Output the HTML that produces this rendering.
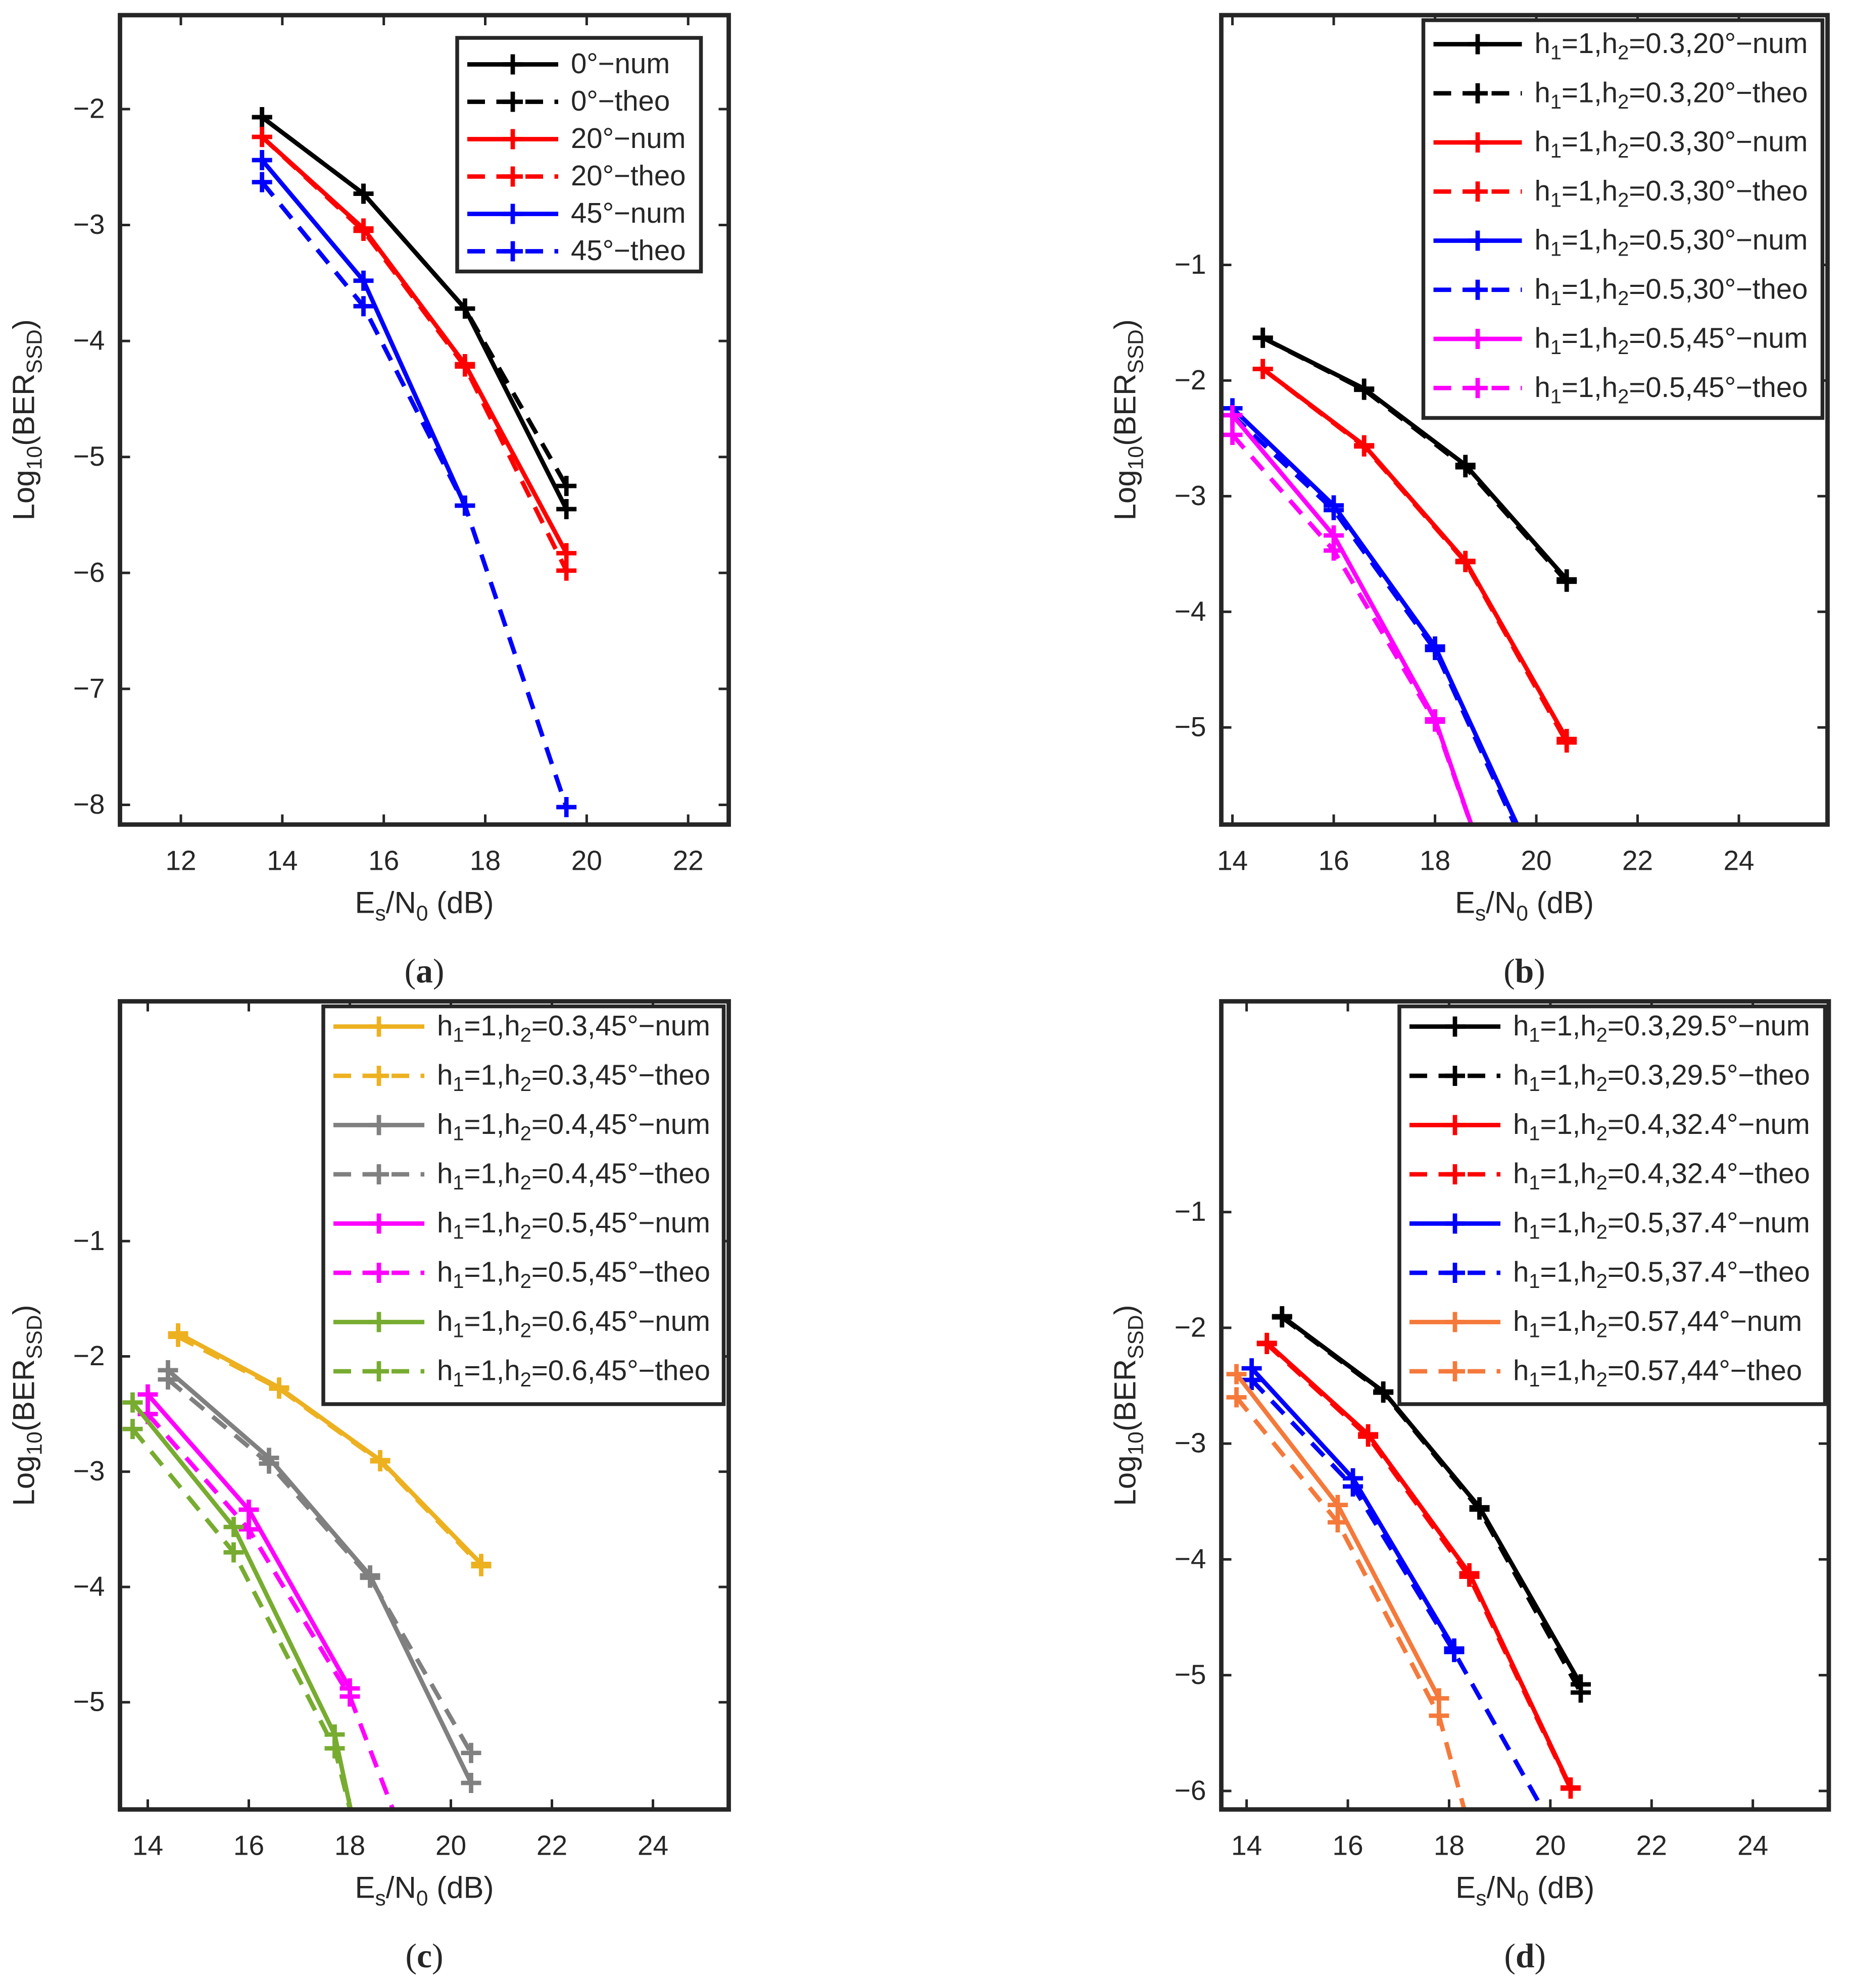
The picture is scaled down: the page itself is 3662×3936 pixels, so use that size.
<!DOCTYPE html>
<html><head><meta charset="utf-8"><style>
html,body{margin:0;padding:0;background:#fff}
svg{display:block}
text{font-family:"Liberation Sans",sans-serif;fill:#262626}
</style></head><body>
<svg id="fig" width="3662" height="3936" viewBox="0 0 1464.8 1574.4" xmlns="http://www.w3.org/2000/svg"></svg>
<script>
// ---- Panel (a) data ----
const aX = [13.6, 15.6, 17.6, 19.6];
const a0num = [-2.07, -2.73, -3.72, -5.45];
const a0theo = [-2.07, -2.73, -3.72, -5.25];
const a20num = [-2.24, -3.03, -4.20, -5.83];
const a20theo = [-2.24, -3.05, -4.22, -5.98];
const a45numX = [13.6, 15.6, 17.6];
const a45num = [-2.44, -3.48, -5.42];
const a45theo = [-2.63, -3.70, -5.42, -8.02];
const aXTicks = [12, 14, 16, 18, 20, 22];
const aYTicks = [-8, -7, -6, -5, -4, -3, -2];
// ---- Panel (b) data ----
const bXk = [14.6, 16.6, 18.6, 20.6];
const bKnum = [-1.63, -2.07, -2.73, -3.72];
const bKtheo = [-1.63, -2.08, -2.75, -3.74];
const bRnum = [-1.90, -2.56, -3.56, -5.10];
const bRtheo = [-1.90, -2.57, -3.57, -5.13];
const bBX = [14.0, 16.0, 18.0, 20.0];
const bBnum = [-2.24, -3.08, -4.30, -6.20];
const bBtheo = [-2.30, -3.12, -4.33, -6.25];
const bMX = [14.0, 16.0, 18.0, 19.0];
const bMnum = [-2.30, -3.34, -4.93, -6.20];
const bMtheo = [-2.47, -3.47, -4.95, -6.20];
const bXTicks = [14, 16, 18, 20, 22, 24];
const bYTicks = [-5, -4, -3, -2, -1];
// ---- Panel (c) data ----
const cYX = [14.6, 16.6, 18.6, 20.6];
const cYnum = [-1.80, -2.27, -2.90, -3.80];
const cYtheo = [-1.83, -2.28, -2.91, -3.82];
const cGX = [14.4, 16.4, 18.4, 20.4];
const cGnum = [-2.12, -2.88, -3.90, -5.70];
const cGtheo = [-2.20, -2.93, -3.92, -5.44];
const cMX = [14.0, 16.0, 18.0, 19.0];
const cMnum = [-2.33, -3.33, -4.88];
const cMtheo = [-2.50, -3.50, -4.95, -6.10];
const cLX = [13.7, 15.7, 17.7, 18.1];
const cLnum = [-2.40, -3.48, -5.28, -6.10];
const cLtheo = [-2.63, -3.70, -5.40, -6.10];
const cXTicks = [14, 16, 18, 20, 22, 24];
const cYTicks = [-5, -4, -3, -2, -1];
// ---- Panel (d) data ----
const dKX = [14.7, 16.7, 18.6, 20.6];
const dKnum = [-1.90, -2.55, -3.55, -5.08];
const dKtheo = [-1.91, -2.56, -3.57, -5.15];
const dRX = [14.4, 16.4, 18.4, 20.4];
const dRnum = [-2.13, -2.92, -4.12, -5.97];
const dRtheo = [-2.14, -2.94, -4.15, -5.98];
const dBX = [14.1, 16.1, 18.1, 19.85];
const dBnum = [-2.35, -3.30, -4.77];
const dBtheo = [-2.45, -3.37, -4.80, -6.16];
const dOX = [13.8, 15.8, 17.8, 18.3];
const dOnum = [-2.40, -3.53, -5.20];
const dOtheo = [-2.60, -3.68, -5.35, -6.16];
const dXTicks = [14, 16, 18, 20, 22, 24];
const dYTicks = [-6, -5, -4, -3, -2, -1];

const NS = "http://www.w3.org/2000/svg";
const fig = document.getElementById('fig');
function mk(tag, attrs, parent){const e=document.createElementNS(NS,tag);for(const k in attrs)e.setAttribute(k,attrs[k]);(parent||fig).appendChild(e);return e;}

const C = {k:'#000000', r:'#FF0000', b:'#0000FF', m:'#FF00FF', y:'#EDB120', g:'#808080', l:'#77AC30', o:'#F5793A'};

function panel(id, box, xr, yr, xt, yt, letter, series, legend){
  const g = mk('g', {});
  
  
  const [x0,y0,x1,y1] = box;
  const sx = v => x0 + (v - xr[0]) / (xr[1] - xr[0]) * (x1 - x0);
  const sy = v => y0 + (yr[1] - v) / (yr[1] - yr[0]) * (y1 - y0);
  const cp = mk('clipPath', {id:'clip'+id}, g);
  mk('rect', {x:x0, y:y0, width:x1-x0, height:y1-y0}, cp);
  xt.forEach(t => {
    const X = sx(t);
    const tk = mk('path', {d:`M${X},${y1}v-8M${X},${y0}v8`, stroke:'#262626', 'stroke-width':2}, g);
    
    
    const tl = mk('text', {x:X, y:y1+36, 'text-anchor':'middle', 'font-size':22}, g);
    tl.textContent = t;
    
    
  });
  yt.forEach(t => {
    const Y = sy(t);
    const tk = mk('path', {d:`M${x0},${Y}h8M${x1},${Y}h-8`, stroke:'#262626', 'stroke-width':2}, g);
    
    
    const tl = mk('text', {x:x0-12, y:Y+7, 'text-anchor':'end', 'font-size':22}, g);
    tl.textContent = '\u2212' + Math.abs(t);
    
    
  });
  const sg = mk('g', {'clip-path':`url(#clip${id})`}, g);
  series.forEach(s => {
    const pts = s.y.map((v,i) => [sx(s.x[i]), sy(v)]);
    const ln = mk('polyline', {points:pts.map(p=>p.join(',')).join(' '), fill:'none', stroke:s.c, 'stroke-width':3.5, 'stroke-dasharray':s.d?'14,9':'none'}, sg);
    
    
    pts.forEach((p,i) => {
      if (s.nm && i >= s.nm) return;
      const mkr = mk('path', {d:`M${p[0]-8},${p[1]}h16M${p[0]},${p[1]-8}v16`, stroke:s.c, 'stroke-width':3.5}, sg);
      
      
    });
  });
  const bx = mk('rect', {x:x0, y:y0, width:x1-x0, height:y1-y0, fill:'none', stroke:'#262626', 'stroke-width':3.5}, g);
  
  
  const xl = mk('text', {x:(x0+x1)/2, y:y1+70, 'text-anchor':'middle', 'font-size':24}, g);
  xl.innerHTML = 'E<tspan font-size="17" dy="6">s</tspan><tspan dy="-6">/N</tspan><tspan font-size="17" dy="6">0</tspan><tspan dy="-6"> (dB)</tspan>';
  
  
  const yl = mk('text', {x:0, y:0, 'text-anchor':'middle', 'font-size':24, transform:`translate(${x0-68},${(y0+y1)/2}) rotate(-90)`}, g);
  yl.innerHTML = 'Log<tspan font-size="17" dy="6">10</tspan><tspan dy="-6">(BER</tspan><tspan font-size="17" dy="6">SSD</tspan><tspan dy="-6">)</tspan>';
  
  
  const pl = mk('text', {x:(x0+x1)/2, y:y1+125, 'text-anchor':'middle', 'font-size':27, style:'font-family:"Liberation Serif",serif'}, g);
  pl.innerHTML = '(<tspan font-weight="bold">' + letter + '</tspan>)';
  
  
  const L = legend;
  const lg = mk('g', {}, g);
  
  
  mk('rect', {x:L.x, y:L.y, width:L.w, height:L.h, fill:'#fff', stroke:'#262626', 'stroke-width':3}, lg);
  series.forEach((s,i) => {
    const Y = L.y0 + i * L.dy;
    const e = mk('g', {}, lg);
    
    
    mk('line', {x1:L.x+8, x2:L.x+8+L.lw, y1:Y, y2:Y, stroke:s.c, 'stroke-width':3.5, 'stroke-dasharray':s.d?'14,9':'none'}, e);
    const cx = L.x + 8 + L.lw/2;
    mk('path', {d:`M${cx-8},${Y}h16M${cx},${Y-8}v16`, stroke:s.c, 'stroke-width':3.5}, e);
    const t = mk('text', {x:L.x+18+L.lw, y:Y+7, 'font-size':22.5}, e);
    t.innerHTML = s.label;
  });
}
function hl(h2, ang, kind){
  return 'h<tspan font-size="16" dy="5">1</tspan><tspan dy="-5">=1,h</tspan><tspan font-size="16" dy="5">2</tspan><tspan dy="-5">=' + h2 + ',' + ang + '\u00B0\u2212' + kind + '</tspan>';
}

panel('a', [95,12,577,653], [10.8,22.8], [-8.17,-1.19], aXTicks, aYTicks, 'a', [
  {name:'0deg-num', x:aX, y:a0num, c:C.k, d:false, label:'0\u00B0\u2212num'},
  {name:'0deg-theo', x:aX, y:a0theo, c:C.k, d:true, label:'0\u00B0\u2212theo'},
  {name:'20deg-num', x:aX, y:a20num, c:C.r, d:false, label:'20\u00B0\u2212num'},
  {name:'20deg-theo', x:aX, y:a20theo, c:C.r, d:true, label:'20\u00B0\u2212theo'},
  {name:'45deg-num', x:a45numX, y:a45num, c:C.b, d:false, label:'45\u00B0\u2212num'},
  {name:'45deg-theo', x:aX, y:a45theo, c:C.b, d:true, label:'45\u00B0\u2212theo'}
], {x:362, y:30, w:193, h:185, y0:51, dy:29.6, lw:72});

panel('b', [967,12,1447,653], [13.78,25.75], [-5.84,1.16], bXTicks, bYTicks, 'b', [
  {name:'h03-20-num', x:bXk, y:bKnum, c:C.k, d:false, label:hl('0.3','20','num')},
  {name:'h03-20-theo', x:bXk, y:bKtheo, c:C.k, d:true, label:hl('0.3','20','theo')},
  {name:'h03-30-num', x:bXk, y:bRnum, c:C.r, d:false, label:hl('0.3','30','num')},
  {name:'h03-30-theo', x:bXk, y:bRtheo, c:C.r, d:true, label:hl('0.3','30','theo')},
  {name:'h05-30-num', x:bBX, y:bBnum, c:C.b, d:false, nm:3, label:hl('0.5','30','num')},
  {name:'h05-30-theo', x:bBX, y:bBtheo, c:C.b, d:true, nm:3, label:hl('0.5','30','theo')},
  {name:'h05-45-num', x:bMX, y:bMnum, c:C.m, d:false, nm:3, label:hl('0.5','45','num')},
  {name:'h05-45-theo', x:bMX, y:bMtheo, c:C.m, d:true, nm:3, label:hl('0.5','45','theo')}
], {x:1127, y:16, w:316, h:315, y0:35, dy:38.9, lw:70});

panel('c', [95,793,577,1433], [13.45,25.5], [-5.93,1.08], cXTicks, cYTicks, 'c', [
  {name:'h03-45-num', x:cYX, y:cYnum, c:C.y, d:false, label:hl('0.3','45','num')},
  {name:'h03-45-theo', x:cYX, y:cYtheo, c:C.y, d:true, label:hl('0.3','45','theo')},
  {name:'h04-45-num', x:cGX, y:cGnum, c:C.g, d:false, label:hl('0.4','45','num')},
  {name:'h04-45-theo', x:cGX, y:cGtheo, c:C.g, d:true, label:hl('0.4','45','theo')},
  {name:'h05-45-num', x:cMX, y:cMnum, c:C.m, d:false, label:hl('0.5','45','num')},
  {name:'h05-45-theo', x:cMX, y:cMtheo, c:C.m, d:true, nm:3, label:hl('0.5','45','theo')},
  {name:'h06-45-num', x:cLX, y:cLnum, c:C.l, d:false, nm:3, label:hl('0.6','45','num')},
  {name:'h06-45-theo', x:cLX, y:cLtheo, c:C.l, d:true, nm:3, label:hl('0.6','45','theo')}
], {x:256, y:797, w:317, h:315, y0:813, dy:39, lw:72});

panel('d', [967,793,1448,1433], [13.5,25.5], [-6.16,0.82], dXTicks, dYTicks, 'd', [
  {name:'h03-29-num', x:dKX, y:dKnum, c:C.k, d:false, label:hl('0.3','29.5','num')},
  {name:'h03-29-theo', x:dKX, y:dKtheo, c:C.k, d:true, label:hl('0.3','29.5','theo')},
  {name:'h04-32-num', x:dRX, y:dRnum, c:C.r, d:false, label:hl('0.4','32.4','num')},
  {name:'h04-32-theo', x:dRX, y:dRtheo, c:C.r, d:true, label:hl('0.4','32.4','theo')},
  {name:'h05-37-num', x:dBX, y:dBnum, c:C.b, d:false, label:hl('0.5','37.4','num')},
  {name:'h05-37-theo', x:dBX, y:dBtheo, c:C.b, d:true, nm:3, label:hl('0.5','37.4','theo')},
  {name:'h057-44-num', x:dOX, y:dOnum, c:C.o, d:false, label:hl('0.57','44','num')},
  {name:'h057-44-theo', x:dOX, y:dOtheo, c:C.o, d:true, nm:3, label:hl('0.57','44','theo')}
], {x:1108, y:797, w:337, h:315, y0:813, dy:39, lw:72});
</script>
</body></html>
